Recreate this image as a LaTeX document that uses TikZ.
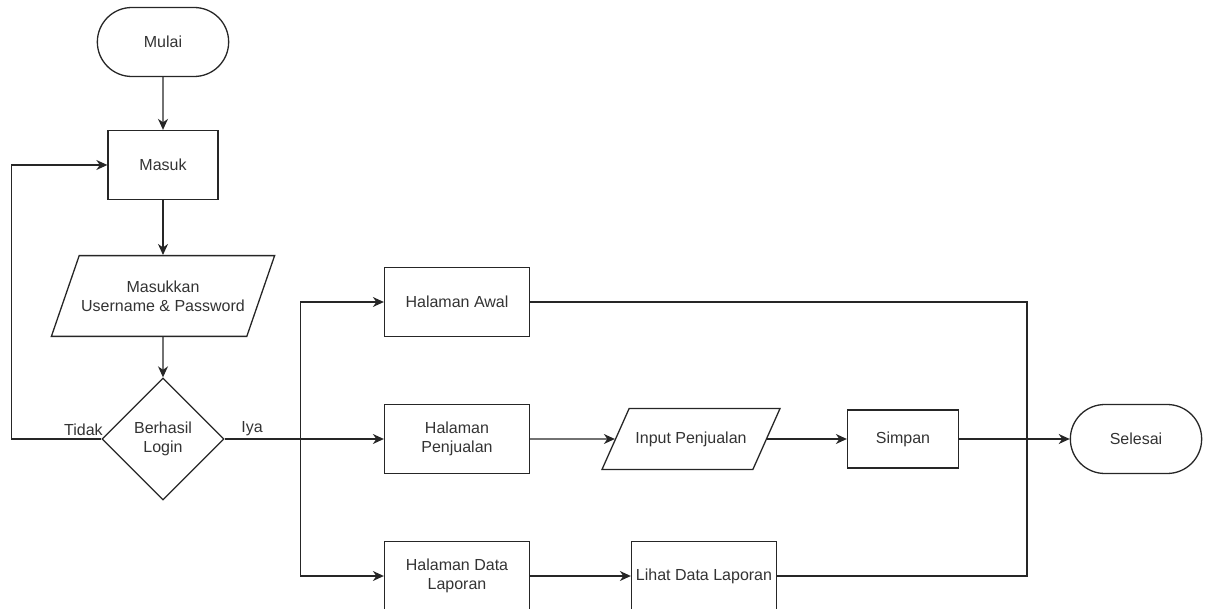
\documentclass[tikz,border=0pt]{standalone}
\usepackage{fontspec}
\setmainfont{Liberation Sans}
\usetikzlibrary{shapes.geometric, shapes.misc}
\usetikzlibrary{arrows.meta}
\usetikzlibrary {positioning}

\begin{document}
\begin{tikzpicture}[x=1pt, y=-1pt, -{Stealth[length=11pt, width=10pt, inset=3.5pt]}, on grid,
    line width=1.3pt, color=black!85, text=black!80, font=\fontsize{16}{19}\selectfont,
    terminal/.style ={rounded rectangle, draw, minimum width=138pt, minimum height=69pt},
    proses/.style ={rectangle, draw, minimum width=145pt, minimum height=69pt, align=center, inner sep=1pt},
    data/.style ={trapezium, trapezium left angle=71, trapezium right angle=109,
    trapezium stretches body, draw, align=center, minimum width=219pt, inner xsep=2pt, inner ysep=25pt}]
    \useasboundingbox (0,0) rectangle (1209,609);

    \node[terminal] (mulai) at (163,42) {Mulai};
    \node[proses, minimum width=110pt] (masuk) [below =123pt of mulai] {Masuk};
    \node[data] (login) [below =131pt of masuk] {Masukkan\\Username \& Password};
    \node[diamond, draw, minimum size=122pt, inner sep=0pt, align=center] (cek) [below =143pt of login] {Berhasil\\Login};

    \node[proses] (penjualan) [right =294pt of cek] {Halaman\\Penjualan};
    \node[proses] (awal) [above =137pt of penjualan] {Halaman Awal};
    \node[proses] (laporan) [below =137pt of penjualan] {Halaman Data\\Laporan};
    \node[data, trapezium left angle=66, trapezium right angle=114,
      minimum width=178pt, inner ysep=23pt] (input) [right =234pt of penjualan] {Input Penjualan};
    \node[proses, minimum width=111pt, minimum height=58pt] (simpan) [right =212pt of input] {Simpan};
    \node[terminal] (selesai) [right =233pt of simpan] {Selesai};
    \node[proses] (lihat) [right =247pt of laporan] {Lihat Data Laporan};

    \coordinate[right =76pt of cek.east] (cabang);
    \coordinate[right =124pt of simpan] (gabung);

    \draw (mulai) -- (masuk);
    \draw (masuk) -- (login);
    \draw (login) -- (cek);
    \draw (cek.west) node[anchor=south east, xshift=5pt, inner sep=3pt] {Tidak}
      -- ++(-90,0) |- (masuk.west);
    \draw (cek.east) node[anchor=south west, xshift=13pt, inner sep=3pt] {Iya}
      -- (penjualan.west);
    \draw (cabang) |- (awal.west);
    \draw (cabang) |- (laporan.west);
    \draw (penjualan) -- (input);
    \draw (input) -- (simpan);
    \draw (simpan) -- (selesai);
    \draw (laporan) -- (lihat);
    \draw[-] (awal.east) -| (gabung) |- (lihat.east);

\end{tikzpicture}
\end{document}
